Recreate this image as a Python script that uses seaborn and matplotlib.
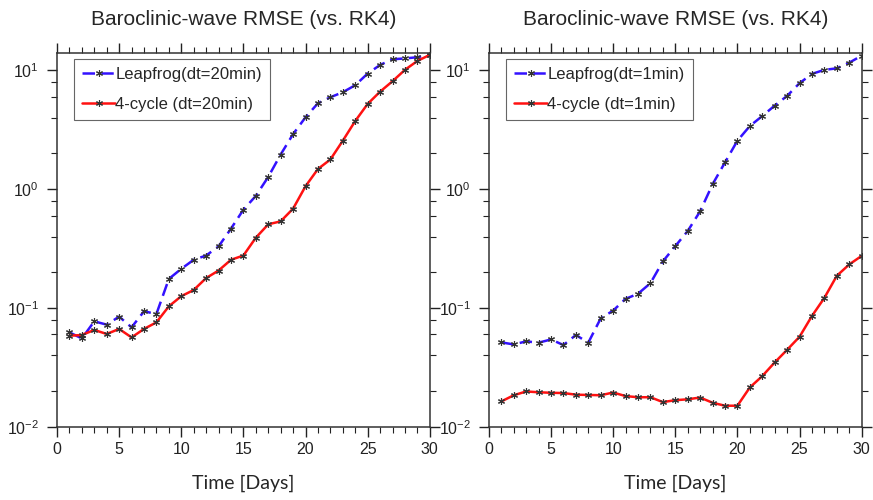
## RMSE of the baroclinic wave test vs. RK4, leapfrog vs 4-cycle at two time steps

import numpy as np
import pandas as pd
import matplotlib
matplotlib.use("Agg")
import matplotlib.pyplot as plt
import matplotlib.ticker as mticker
import seaborn as sns

days = list(range(1, 31))

# dt = 20 min
leap_20 = [0.0625, 0.0556, 0.0774, 0.0726, 0.0848, 0.0689, 0.094, 0.0893, 0.176, 0.214,
           0.255, 0.277, 0.330, 0.466, 0.673, 0.879, 1.27, 1.96, 2.91, 4.03,
           5.29, 5.94, 6.55, 7.5, 9.4, 11.1, 12.4, 12.6, 12.9, 13.5]
cyc4_20 = [0.0586, 0.0594, 0.0655, 0.0606, 0.0668, 0.0567, 0.0668, 0.0759, 0.1035, 0.126,
           0.142, 0.179, 0.207, 0.255, 0.277, 0.391, 0.507, 0.537, 0.687, 1.06,
           1.48, 1.78, 2.56, 3.75, 5.22, 6.62, 8.1, 10.1, 12.0, 13.5]

# dt = 1 min
leap_1 = [0.0515, 0.0495, 0.0525, 0.0512, 0.0545, 0.0489, 0.0594, 0.0512, 0.082, 0.0953,
          0.1197, 0.132, 0.162, 0.247, 0.332, 0.445, 0.652, 1.10, 1.68, 2.56,
          3.40, 4.13, 5.05, 6.1, 7.8, 9.34, 10.1, 10.4, 11.6, 13.3]
cyc4_1 = [0.0164, 0.0185, 0.0199, 0.0196, 0.0194, 0.0193, 0.0187, 0.0186, 0.0185, 0.0195,
          0.0182, 0.0178, 0.0178, 0.0162, 0.0168, 0.0171, 0.0177, 0.0160, 0.0151, 0.0151,
          0.0215, 0.0268, 0.0349, 0.0446, 0.0574, 0.0859, 0.122, 0.187, 0.233, 0.275]

panels = [
    ("Leapfrog(dt=20min)", leap_20, "4-cycle (dt=20min)", cyc4_20),
    ("Leapfrog(dt=1min)", leap_1, "4-cycle (dt=1min)", cyc4_1),
]

sns.set_style("ticks")
plt.rcParams['font.family'] = ['Liberation Sans', 'DejaVu Sans']

fig = plt.figure(figsize=(8.73, 5.0), dpi=100)
axes = [fig.add_axes([0.0653, 0.146, 0.427, 0.748]),
        fig.add_axes([0.560, 0.146, 0.427, 0.748])]

mk = dict(marker=(6, 2, 0), markersize=5, markeredgecolor="#333333",
          markeredgewidth=0.8)

for ax, (lab_a, ya, lab_b, yb) in zip(axes, panels):
    df = pd.DataFrame({"day": days, "a": ya, "b": yb})
    sns.lineplot(data=df, x="day", y="a", ax=ax, color="#3311ff", lw=1.8,
                 linestyle=(0, (5, 2.5)), label=lab_a, **mk)
    sns.lineplot(data=df, x="day", y="b", ax=ax, color="#ff1111", lw=1.8,
                 label=lab_b, **mk)
    ax.set_yscale("log")
    ax.set_xlim(0, 30)
    ax.set_ylim(0.01, 14)
    ax.xaxis.set_major_locator(mticker.MultipleLocator(5))
    ax.xaxis.set_minor_locator(mticker.MultipleLocator(1))
    ax.yaxis.set_major_locator(mticker.LogLocator(base=10, numticks=10))
    ax.yaxis.set_minor_locator(mticker.LogLocator(base=10, subs=[2, 4, 6, 8], numticks=10))
    ax.yaxis.set_minor_formatter(mticker.NullFormatter())
    ax.tick_params(which="both", direction="out", top=True, right=True,
                   colors="#222222", labelsize=11.5)
    ax.tick_params(which="major", length=7, width=1)
    ax.tick_params(which="minor", length=4.3, width=0.8)
    ax.tick_params(axis="y", which="major", pad=6)
    for s in ax.spines.values():
        s.set_color("#333333")
        s.set_linewidth(1.1)
    ax.set_title("Baroclinic-wave RMSE (vs. RK4)", fontsize=15, pad=20)
    ax.set_xlabel("Time [Days]", fontsize=14, family="Lato", labelpad=13)
    ax.set_ylabel("")
    leg = ax.legend(loc="upper left", bbox_to_anchor=(0.045, 0.985), fontsize=12,
                    handlelength=2.0, handletextpad=0.0, fancybox=False,
                    borderpad=0.5, borderaxespad=0, labelspacing=0.9, framealpha=1)
    leg.get_frame().set_edgecolor("#666666")
    leg.get_frame().set_linewidth(0.8)

plt.savefig("out.png", dpi=100)
